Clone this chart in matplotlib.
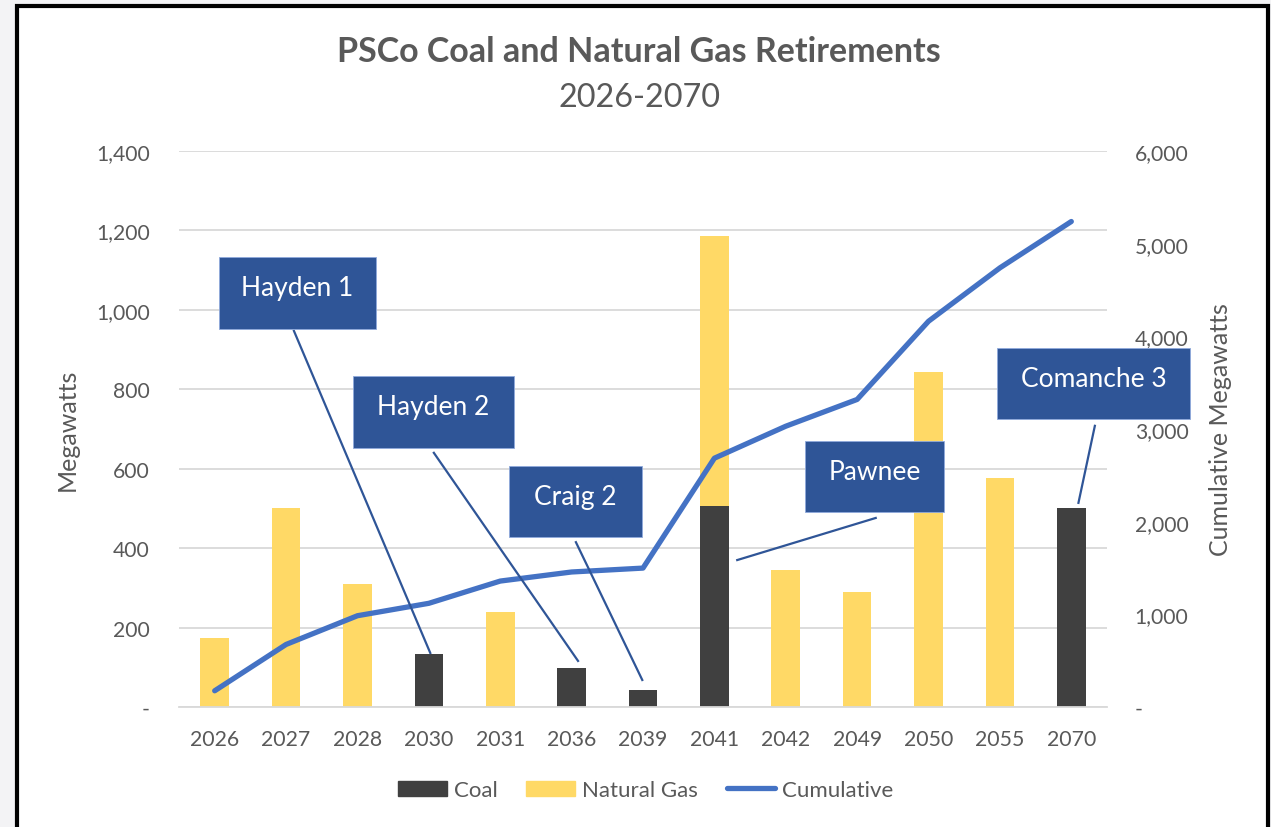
import numpy as np
import matplotlib.pyplot as plt
from matplotlib.patches import Rectangle, Patch
from matplotlib.lines import Line2D

plt.rcParams['font.family'] = ['Lato', 'DejaVu Sans']

# data (MW)
years = ['2026', '2027', '2028', '2030', '2031', '2036', '2039',
         '2041', '2042', '2049', '2050', '2055', '2070']
coal = [0, 0, 0, 134, 0, 98, 42, 505, 0, 0, 0, 0, 500]
gas = [175, 500, 310, 0, 240, 0, 0, 681, 345, 289, 844, 576, 0]
cumulative = [175, 675, 985, 1119, 1359, 1457, 1499, 2685, 3030, 3319, 4163, 4739, 5239]

# callout boxes: label, box (x0, x1, y0, y1), leader start, leader end (x idx, MW)
ann_labels = ['Hayden 1', 'Hayden 2', 'Craig 2', 'Pawnee', 'Comanche 3']
ann_boxes = [(0.06, 2.26, 952, 1133), (1.94, 4.19, 652, 833), (4.12, 5.99, 428, 607),
             (8.27, 10.22, 491, 670), (10.96, 13.66, 725, 904)]
ann_from = [(1.11, 947), (3.07, 640), (5.06, 415), (9.26, 476), (12.33, 708)]
ann_to = [(3.02, 136), (5.09, 116), (5.99, 68), (7.32, 370), (12.10, 514)]

COAL_C = '#404040'
GAS_C = '#FFD966'
LINE_C = '#4472C4'
BOX_C = '#2F5597'
TXT_C = '#595959'
GRID_C = '#d9d9d9'

W, H = 1271, 828
fig = plt.figure(figsize=(W / 100, H / 100), dpi=100)
fig.patch.set_facecolor('#f3f3f5')
fig.add_artist(Rectangle((17 / W, -0.02), (1268 - 17) / W, 1.02 - 7 / H,
                         transform=fig.transFigure, facecolor='white',
                         edgecolor='black', lw=3, zorder=0))

ax = fig.add_axes([179 / W, 120 / H, 928 / W, 556 / H])
x = np.arange(len(years))
ax.bar(x, coal, width=0.4, color=COAL_C, zorder=2)
ax.bar(x, gas, width=0.4, bottom=coal, color=GAS_C, zorder=2)

ax.set_xlim(-0.5, len(years) - 0.5)
ax.set_ylim(0, 1400)
yt = np.arange(0, 1401, 200)
ax.set_yticks(yt)
ax.set_yticklabels(['-' if v == 0 else f'{v:,}' for v in yt])
ax.set_xticks(x)
ax.set_xticklabels(years)
ax.yaxis.grid(True, color=GRID_C, lw=1.3)
ax.set_axisbelow(True)
for s in ['top', 'left', 'right']:
    ax.spines[s].set_visible(False)
ax.spines['bottom'].set_color(GRID_C)
ax.spines['bottom'].set_linewidth(1.3)
ax.tick_params(axis='y', length=0, pad=21, labelsize=15.2, labelcolor=TXT_C)
ax.tick_params(axis='x', length=0, pad=16, labelsize=15.3, labelcolor=TXT_C)
ax.set_facecolor('none')

ax2 = ax.twinx()
ax2.set_ylim(0, 6000)
yt2 = np.arange(0, 6001, 1000)
ax2.set_yticks(yt2)
ax2.set_yticklabels(['-' if v == 0 else f'{v:,}' for v in yt2])
ax2.tick_params(axis='y', length=0, pad=20, labelsize=15.2, labelcolor=TXT_C)
for s in ax2.spines.values():
    s.set_visible(False)
ax2.plot(x, cumulative, color=LINE_C, lw=3.8, solid_capstyle='round', zorder=3)

# callouts, drawn on top of the line, in left-axis units
for lab, (x0, x1, y0, y1), p0, p1 in zip(ann_labels, ann_boxes, ann_from, ann_to):
    ax2.plot([p0[0], p1[0]], [p0[1], p1[1]], color=BOX_C, lw=1.6,
             transform=ax.transData, zorder=4, clip_on=False)
    ax2.add_patch(Rectangle((x0, y0), x1 - x0, y1 - y0, facecolor=BOX_C,
                            edgecolor='#8faadc', lw=0.6, transform=ax.transData,
                            zorder=5, clip_on=False))
    ax2.text((x0 + x1) / 2, (y0 + y1) / 2 + 13, lab, color='white', fontsize=19,
             ha='center', va='center', transform=ax.transData, zorder=6)

fig.text(67 / W, 1 - 430 / H, 'Megawatts', rotation=90, ha='center', va='center',
         fontsize=18, color=TXT_C)
fig.text(1220 / W, 1 - 430 / H, 'Cumulative Megawatts', rotation=90, ha='center',
         va='center', fontsize=18, color=TXT_C)

fig.text(0.503, 1 - 52 / H, 'PSCo Coal and Natural Gas Retirements', ha='center',
         va='center', fontsize=24.5, fontweight='bold', color=TXT_C)
fig.text(0.503, 1 - 98 / H, '2026-2070', ha='center', va='center', fontsize=23.3,
         color=TXT_C)

handles = [Patch(color=COAL_C), Patch(color=GAS_C),
           Line2D([0], [0], color=LINE_C, lw=3.8, solid_capstyle='round')]
leg = fig.legend(handles, ['Coal', 'Natural Gas', 'Cumulative'], loc='center',
                 bbox_to_anchor=(0.508, 1 - 791 / H), ncol=3, frameon=False,
                 fontsize=16, handlelength=2.2, handleheight=0.65,
                 handletextpad=0.3, columnspacing=1.3)
for t in leg.get_texts():
    t.set_color(TXT_C)

fig.savefig('out.png', dpi=100)
